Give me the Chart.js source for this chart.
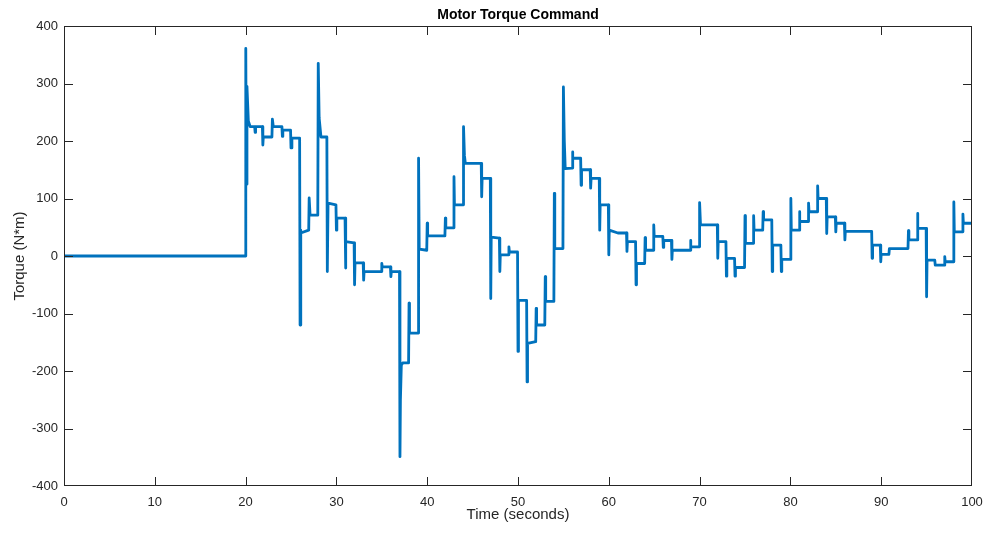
<!DOCTYPE html>
<html>
<head>
<meta charset="utf-8">
<script src="https://cdn.jsdelivr.net/npm/chart.js@4"></script>
<style>
  body { margin: 0; background: #fff; }
  #wrap { width: 987px; height: 533px; }
</style>
</head>
<body>
<div id="wrap"><canvas id="torqueChart" width="987" height="533"></canvas></div>
<script>
// Time axis (seconds) and torque command (N*m)
var time = [
  0, 20, 20.02, 20.08, 20.15, 20.3, 20.5, 21.0, 21.05, 21.1, 21.85, 21.9, 21.95,
  22.9, 22.95, 23.05, 24.0, 24.05, 24.1, 24.95, 25.0, 25.1, 25.95, 26.0, 26.05, 26.1,
  26.95, 27.0, 27.1, 27.95, 28.0, 28.1, 28.3, 28.95, 29.0, 29.08, 29.95, 30.0, 30.05,
  30.95, 31.0, 31.05, 31.95, 32.0, 32.05, 32.95, 33.0, 33.05, 34.95, 35.0, 35.05,
  35.95, 36.0, 36.05, 36.95, 37.0, 37.05, 37.15, 37.3, 37.95, 38.0, 38.05,
  39.0, 39.05, 39.12, 39.95, 40.0, 40.05, 41.95, 42.0, 42.05, 42.9, 42.95, 43.0,
  43.95, 44.0, 44.1, 44.2, 45.95, 46.0, 46.05, 46.95, 47.0, 47.05, 47.95, 48.0, 48.05,
  48.95, 49.0, 49.05, 49.95, 50.0, 50.05, 50.95, 51.0, 51.05, 51.95, 52.0, 52.05,
  52.95, 53.0, 53.05, 53.95, 54.0, 54.05, 54.95, 55.0, 55.1, 55.2, 55.95, 56.0, 56.05,
  56.9, 56.95, 57.0, 57.95, 58.0, 58.05, 58.95, 59.0, 59.05, 59.95, 60.0, 60.05,
  61.0, 61.95, 62.0, 62.05, 62.95, 63.0, 63.05, 63.95, 64.0, 64.05, 64.9, 64.95, 65.0,
  65.95, 66.0, 66.05, 66.9, 66.95, 67.0, 68.95, 69.0, 69.05, 69.95, 70.0, 70.1,
  71.95, 72.0, 72.05, 72.9, 72.95, 73.0, 73.85, 73.9, 73.95, 74.95, 75.0, 75.05,
  75.9, 75.95, 76.0, 76.95, 77.0, 77.05, 77.95, 78.0, 78.05, 78.95, 79.0, 79.05,
  80.0, 80.05, 80.1, 80.95, 81.0, 81.05, 81.95, 82.0, 82.05, 82.95, 83.0, 83.05,
  83.95, 84.0, 84.05, 84.95, 85.0, 85.05, 85.95, 86.0, 86.05, 88.95, 89.0, 89.05,
  89.9, 89.95, 90.0, 90.85, 90.9, 92.95, 93.0, 93.05, 93.95, 94.0, 94.05,
  94.95, 95.0, 95.05, 95.9, 95.95, 96.95, 97.0, 97.05, 97.95, 98.0, 98.05,
  98.95, 99.0, 99.05, 100
];
var torque = [
  0, 0, 361, 125, 295, 235, 225, 225, 215, 225, 225, 193, 207,
  207, 238, 225, 225, 208, 219, 219, 188, 205, 205, -120, 45, 40,
  45, 101, 71, 71, 335, 240, 207, 207, -27, 92, 89, 45, 66,
  66, -21, 25, 23, -50, -12, -12, -42, -27, -27, -13, -19,
  -19, -36, -27, -27, -349, -250, -190, -186, -186, -82, -134,
  -134, 170, 12, 10, 57, 35, 35, 66, 49, 49, 138, 89,
  89, 225, 175, 161, 161, 103, 135, 135, -74, 33, 31, -27, 2,
  2, 16, 7, 7, -166, -77, -77, -219, -152, -149, -91, -120,
  -120, -36, -79, -79, 109, 13, 13, 294, 200, 152, 153, 181, 170,
  170, 123, 150, 150, 118, 135, 135, 45, 89, 89, 2, 45,
  40, 40, 8, 25, 25, -50, -13, -13, 32, 10, 10, 54, 34,
  34, 15, 27, 27, -6, 10, 10, 27, 16, 16, 93, 54,
  54, -4, 25, 25, -35, -4, -4, -35, -20, -20, 70, 22,
  22, 70, 45, 45, 77, 63, 63, -27, 19, 19, -27, -6,
  -6, 100, 45, 45, 77, 60, 60, 92, 77, 77, 122, 100,
  100, 39, 68, 68, 42, 57, 57, 28, 43, 43, -4, 19,
  19, -10, 3, 3, 13, 13, 44, 28, 28, 74, 48,
  48, -71, -7, -7, -16, -16, -1, -10, -10, 94, 42,
  42, 73, 57, 57
];

var xTicks = [0, 10, 20, 30, 40, 50, 60, 70, 80, 90, 100];
var yTicks = [-400, -300, -200, -100, 0, 100, 200, 300, 400];

var axisColor = '#262626';
var fontFamily = '"Liberation Sans", Arial, Helvetica, sans-serif';

// Build the point list for the line
var points = [];
for (var i = 0; i < time.length; i++) {
  points.push({ x: time[i], y: torque[i] });
}

// MATLAB style box with inward ticks on all four sides
const boxPlugin = {
  id: 'boxPlugin',
  afterDatasetsDraw(chart) {
    const { ctx, chartArea: a, scales: { x, y } } = chart;
    const len = 9;
    ctx.save();
    ctx.strokeStyle = axisColor;
    ctx.lineWidth = 1;
    ctx.strokeRect(a.left + 0.5, a.top + 0.5, a.right - a.left - 1, a.bottom - a.top - 1);
    ctx.beginPath();
    // skip the ticks that sit on the box edges
    xTicks.slice(1, -1).forEach(function (v) {
      const px = Math.round(x.getPixelForValue(v)) + 0.5;
      ctx.moveTo(px, a.bottom); ctx.lineTo(px, a.bottom - len);
      ctx.moveTo(px, a.top); ctx.lineTo(px, a.top + len);
    });
    yTicks.slice(1, -1).forEach(function (v) {
      const py = Math.round(y.getPixelForValue(v)) + 0.5;
      ctx.moveTo(a.left, py); ctx.lineTo(a.left + len, py);
      ctx.moveTo(a.right, py); ctx.lineTo(a.right - len, py);
    });
    ctx.stroke();
    ctx.restore();
  }
};

Chart.defaults.font.family = fontFamily;
Chart.defaults.color = axisColor;

new Chart(document.getElementById('torqueChart'), {
  type: 'line',
  data: {
    datasets: [{
      data: points,
      borderColor: '#0072BD',
      borderWidth: 2.8,
      borderJoinStyle: 'round',
      borderCapStyle: 'round',
      pointRadius: 0,
      tension: 0,
      fill: false
    }]
  },
  options: {
    responsive: false,
    devicePixelRatio: 1,
    animation: false,
    layout: { padding: { left: 0, right: 15, top: 0, bottom: 0 } },
    plugins: {
      legend: { display: false },
      tooltip: { enabled: false },
      title: {
        display: true,
        fullSize: false,
        text: 'Motor Torque Command',
        color: '#000',
        font: { size: 14, weight: 'bold' },
        padding: { top: 6.6, bottom: 2.6 }
      }
    },
    scales: {
      x: {
        type: 'linear',
        min: 0,
        max: 100,
        grid: { display: false, drawTicks: false },
        border: { display: false },
        afterBuildTicks: function (s) { s.ticks = xTicks.map(function (v) { return { value: v }; }); },
        afterFit: function (s) { s.height = 47; s.paddingLeft = 0; s.paddingRight = 0; },
        ticks: { padding: 9, maxRotation: 0, font: { size: 13 }, color: axisColor },
        title: { display: true, text: 'Time (seconds)', font: { size: 15 }, padding: { top: 0, bottom: 9 } }
      },
      y: {
        type: 'linear',
        min: -400,
        max: 400,
        grid: { display: false, drawTicks: false },
        border: { display: false },
        afterBuildTicks: function (s) { s.ticks = yTicks.map(function (v) { return { value: v }; }); },
        afterFit: function (s) { s.width = 64; s.paddingTop = 0; s.paddingBottom = 0; },
        ticks: { padding: 6, font: { size: 13 }, color: axisColor },
        title: { display: true, text: 'Torque (N*m)', font: { size: 15 }, padding: { top: 10.5, bottom: 0 } }
      }
    }
  },
  plugins: [boxPlugin]
});
</script>
</body>
</html>
